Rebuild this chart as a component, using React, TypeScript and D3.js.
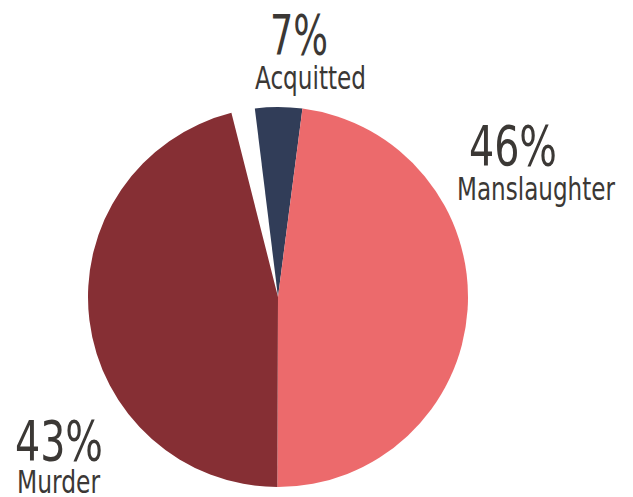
import React from "react";
import * as d3 from "d3";

// Slice shares as drawn (degrees of the circle expressed in percent)
const categories = ["Acquitted", "Manslaughter", "Murder", ""];
const sliceValues = [4, 48, 46, 2];
const labelPercents = ["7%", "46%", "43%"];
const labelNames = ["Acquitted", "Manslaughter", "Murder"];
const colors = ["#313D58", "#EC6A6C", "#862F34", "none"];

const W = 633;
const H = 497;
const CX = 278;
const CY = 297;
const R = 190;
const START_DEG = -7;

// label layout: [x of percent, baseline of percent, width, x of name, baseline of name, width]
const labelLayout = [
  { px: 270, py: 54, pw: 58, nx: 255, ny: 89, nw: 111 },
  { px: 469, py: 165, pw: 88, nx: 457, ny: 200, nw: 158 },
  { px: 15, py: 460, pw: 88, nx: 17, ny: 493, nw: 83 },
];

const FONT = "'Liberation Sans Narrow', 'DejaVu Sans Condensed', 'Roboto', sans-serif";

export default function App() {
  const start = (START_DEG * Math.PI) / 180;
  const pie = d3
    .pie<number>()
    .sort(null)
    .value((d) => d)
    .startAngle(start)
    .endAngle(start + 2 * Math.PI);
  const arcs = pie(sliceValues);
  const arc = d3.arc<d3.PieArcDatum<number>>().innerRadius(0).outerRadius(R);

  return (
    <svg
      width={W}
      height={H}
      style={{ position: "absolute", left: 0, top: 0, background: "#fff" }}
    >
      <g transform={`translate(${CX},${CY})`}>
        {arcs.map((a, i) =>
          colors[i] === "none" ? null : (
            <path key={categories[i]} d={arc(a) || ""} fill={colors[i]} />
          )
        )}
      </g>
      {labelLayout.map((l, i) => (
        <g key={labelNames[i]} fill="#3B3835" fontFamily={FONT}>
          <text
            x={l.px}
            y={l.py}
            fontSize={56}
            textLength={l.pw}
            lengthAdjust="spacingAndGlyphs"
          >
            {labelPercents[i]}
          </text>
          <text
            x={l.nx}
            y={l.ny}
            fontSize={32}
            textLength={l.nw}
            lengthAdjust="spacingAndGlyphs"
          >
            {labelNames[i]}
          </text>
        </g>
      ))}
    </svg>
  );
}
